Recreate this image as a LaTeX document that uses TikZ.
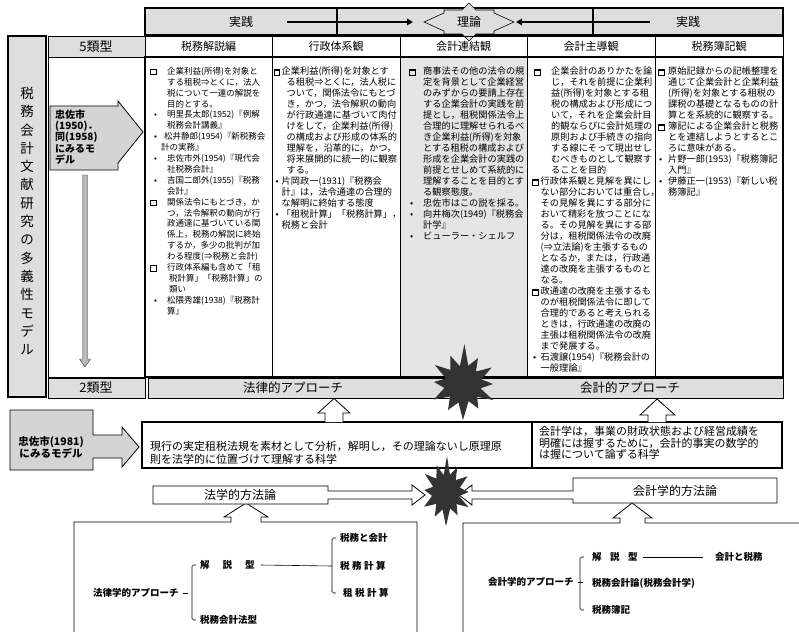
\documentclass[tikz,border=0pt]{standalone}
\usepackage{fontspec}
\setmainfont{Noto Sans CJK JP}
\usetikzlibrary{arrows.meta}
\definecolor{bandgray}{gray}{0.87}
\definecolor{boxgray}{gray}{0.83}
\definecolor{colgray}{gray}{0.9}
\definecolor{stardark}{gray}{0.2}
\newcommand\fs[2]{\fontsize{#1}{#2}\selectfont}
\newcommand\sqm{{\setlength\fboxrule{1.1pt}\setlength\fboxsep{0pt}\fbox{\rule{0pt}{4.4pt}\hspace{4.4pt}}}}
\newcommand\mk[2]{\makebox[#1][l]{#2}}
\newcommand\ind[1]{\hspace*{#1}}
\tikzset{
 hdr/.style={font=\fs{11}{13}},
 coltext/.style={anchor=north west, align=left, font=\fs{9.2}{11}},
 bigtext/.style={font=\fs{12.5}{14}},
 gothic/.style={font=\bfseries\fs{10}{11.3}, align=left},
 treelbl/.style={anchor=west, font=\bfseries\fs{9.5}{11}},
 blockarrow/.style={draw, fill=white, line width=0.8pt},
 burstfill/.style={fill=stardark},
 thinln/.style={line width=0.6pt},
}
\begin{document}
\begin{tikzpicture}[x=1pt,y=-1pt, every node/.style={inner sep=0pt}]
\useasboundingbox (0,0) rectangle (799,631);

% ---------- top band ----------
\fill[bandgray] (145,8) rectangle (783,35);
\draw[line width=1.2pt] (145,8) rectangle (593,35);
\draw[line width=1.8pt] (337,8) rectangle (783,35);
\draw[line width=1pt] (593,8) -- (593,35);
\node[font=\fs{12}{12}] (jissenL) at (241,22) {実践};
\node[font=\fs{12}{12}] (jissenR) at (688,22) {実践};
\draw[fill=bandgray, thinln] (424,22) -- (444,13) -- (444,10) -- (462,10) -- (469,3) -- (476,10) -- (494,10) -- (494,13) -- (514,22) -- (494,31) -- (494,34) -- (476,34) -- (469,41) -- (462,34) -- (444,34) -- (444,31) -- cycle;
\node[font=\fs{12}{12}] (riron) at (469,22) {理論};
\coordinate (a1s) at (287,22); \coordinate (a1e) at (413,22);
\coordinate (a2s) at (650,22); \coordinate (a2e) at (516,22);
\draw[line width=1.6pt, -{Triangle[length=6pt,width=6.5pt]}] (a1s) -- (a1e);
\draw[line width=1.6pt, -{Triangle[length=6pt,width=6.5pt]}] (a2s) -- (a2e);

% ---------- left panel ----------
\draw[fill=bandgray, line width=1.8pt] (8,36) rectangle (46,397);
\node[font=\fs{13.5}{18.3}, align=center] (vt) at (27,221) {税\\務\\会\\計\\文\\献\\研\\究\\の\\多\\義\\性\\モ\\デ\\ル};

% ---------- 5 types column ----------
\draw[fill=bandgray, thinln] (48,36) rectangle (145,57);
\node[font=\fs{13}{13}] (five) at (96,46.5) {5類型};
\draw[thinln] (48,57) rectangle (145,377);
\draw[fill=bandgray, thinln] (48,378) rectangle (145,398);
\node[font=\fs{13}{13}] (two) at (96,388) {2類型};
\draw[fill=boxgray, line width=0.8pt] (50,106) -- (118,106) -- (118,101) -- (143,132) -- (118,163) -- (118,170) -- (50,170) -- cycle;
\node[gothic, anchor=west] (m1950) at (55,137) {忠佐市\\(1950)．\\同(1958)\\にみるモ\\デル};
\draw[fill=gray!55, draw=gray!40!black, line width=0.4pt] (82.5,175) -- (87.5,175) -- (87.5,359) -- (90.5,359) -- (85,367) -- (79.5,359) -- (82.5,359) -- cycle;

% ---------- header row ----------
\draw[thinln] (145,36) rectangle (783,57);
\foreach \xx in {272,400,527,655} \draw[thinln] (\xx,36) -- (\xx,377);
\node[hdr] (h1) at (208.5,46.5) {税務解説編};
\node[hdr] (h2) at (336,46.5) {行政体系観};
\node[hdr] (h3) at (463.5,46.5) {会計連結観};
\node[hdr] (h4) at (591,46.5) {会計主導観};
\node[hdr] (h5) at (719,46.5) {税務簿記観};

% ---------- body ----------
\fill[colgray] (400,57) rectangle (527,377);
\foreach \xx in {272,400,527,655} \draw[thinln] (\xx,57) -- (\xx,377);
\draw[line width=1.6pt] (145,57) rectangle (783,377);

\node[coltext, font=\fs{8.5}{10.9}] (c1) at (150,67) {%
\mk{17pt}{\sqm}企業利益(所得)を対象と\\
\ind{17pt}する租税⇒とくに，法人\\
\ind{17pt}税について一連の解説を\\
\ind{17pt}目的とする。\\
\mk{17pt}{\hspace{4pt}•}明里長太郎(1952)『例解\\
\ind{17pt}税務会計講義』\\
\mk{14pt}{\hspace{4pt}•}松井静郎(1954)『新税務会\\
\ind{11pt}計の実務』\\
\mk{17pt}{\hspace{4pt}•}忠佐市外(1954)『現代会\\
\ind{17pt}社税務会計』\\
\mk{17pt}{\hspace{4pt}•}吉国二郎外(1955)『税務\\
\ind{17pt}会計』\\
\mk{17pt}{\sqm}関係法令にもとづき，か\\
\ind{17pt}つ，法令解釈の動向が行\\
\ind{17pt}政通達に基づいている関\\
\ind{17pt}係上，税務の解説に終始\\
\ind{17pt}するか，多少の批判が加\\
\ind{17pt}わる程度(⇒税務と会計)\\
\mk{17pt}{\sqm}行政体系編も含めて「租\\
\ind{19pt}税計算」「税務計算」の\\
\ind{19pt}類い\\
\mk{17pt}{\hspace{4pt}•}松隈秀雄(1938)『税務計\\
\ind{17pt}算』};

\node[coltext] (c2) at (273.5,67) {%
\mk{8pt}{\sqm}企業利益(所得)を対象とす\\
\ind{13pt}る租税⇒とくに，法人税に\\
\ind{13pt}ついて，関係法令にもとづ\\
\ind{13pt}き，かつ，法令解釈の動向\\
\ind{13pt}が行政通達に基づいて肉付\\
\ind{13pt}けをして，企業利益(所得)\\
\ind{13pt}の構成および形成の体系的\\
\ind{13pt}理解を，沿革的に，かつ，\\
\ind{13pt}将来展開的に統一的に観察\\
\ind{13pt}する。\\
\mk{8pt}{\hspace{2pt}•}片岡政一(1931)『税務会\\
\ind{8pt}計』は，法令通達の合理的\\
\ind{8pt}な解明に終始する態度\\
\mk{8pt}{\hspace{2pt}•}「租税計算」「税務計算」，\\
\ind{8pt}税務と会計};

\node[coltext] (c3) at (409,67) {%
\mk{14pt}{\sqm}商事法その他の法令の規\\
\ind{14pt}定を背景として企業経営\\
\ind{14pt}のみずからの要請上存在\\
\ind{14pt}する企業会計の実践を前\\
\ind{14pt}提とし，租税関係法令上\\
\ind{14pt}合理的に理解せられるべ\\
\ind{14pt}き企業利益(所得)を対象\\
\ind{14pt}とする租税の構成および\\
\ind{14pt}形成を企業会計の実践の\\
\ind{14pt}前提とせしめて系統的に\\
\ind{14pt}理解することを目的とす\\
\ind{14pt}る観察態度。\\
\mk{14pt}{\hspace{1pt}•}忠佐市はこの説を採る。\\
\mk{14pt}{\hspace{1pt}•}向井梅次(1949)『税務会\\
\ind{14pt}計学』\\
\mk{14pt}{\hspace{1pt}•}ビューラー・シェルフ};

\node[coltext] (c4) at (532,67) {%
\mk{19pt}{\hspace{2pt}\sqm}企業会計のありかたを論\\
\ind{19pt}じ，それを前提に企業利\\
\ind{19pt}益(所得)を対象とする租\\
\ind{19pt}税の構成および形成につ\\
\ind{19pt}いて，それを企業会計目\\
\ind{19pt}的観ならびに会計処理の\\
\ind{19pt}原則および手続きの指向\\
\ind{19pt}する線にそって現出せし\\
\ind{19pt}むべきものとして観察す\\
\ind{19pt}ることを目的\\
\mk{8.5pt}{\sqm}行政体系観と見解を異にし\\
\ind{8.5pt}ない部分においては重合し，\\
\ind{8.5pt}その見解を異にする部分に\\
\ind{8.5pt}おいて精彩を放つことにな\\
\ind{8.5pt}る。その見解を異にする部\\
\ind{8.5pt}分は，租税関係法令の改廃\\
\ind{8.5pt}(⇒立法論)を主張するもの\\
\ind{8.5pt}となるか，または，行政通\\
\ind{8.5pt}達の改廃を主張するものと\\
\ind{8.5pt}なる。\\
\mk{8.5pt}{\sqm}政通達の改廃を主張するも\\
\ind{8.5pt}のが租税関係法令に即して\\
\ind{8.5pt}合理的であると考えられる\\
\ind{8.5pt}ときは，行政通達の改廃の\\
\ind{8.5pt}主張は租税関係法令の改廃\\
\ind{8.5pt}まで発展する。\\
\mk{8.5pt}{\hspace{1pt}•}石渡譲(1954)『税務会計の\\
\ind{8.5pt}一般理論』};

\node[coltext] (c5) at (658,67) {%
\mk{10pt}{\sqm}原始記録からの記帳整理を\\
\ind{10pt}通じて企業会計と企業利益\\
\ind{10pt}(所得)を対象とする租税の\\
\ind{10pt}課税の基礎となるものの計\\
\ind{10pt}算とを系統的に観察する。\\
\mk{10pt}{\sqm}簿記による企業会計と税務\\
\ind{10pt}とを連結しようとするとこ\\
\ind{10pt}ろに意味がある。\\
\mk{10pt}{\hspace{1pt}•}片野一郎(1953)『税務簿記\\
\ind{10pt}入門』\\
\mk{10pt}{\hspace{1pt}•}伊藤正一(1953)『新しい税\\
\ind{10pt}務簿記』};

% ---------- approach bar ----------
\draw[fill=bandgray, thinln] (148,378) rectangle (783,398);
\node[bigtext] (lawap) at (293,388) {法律的アプローチ};
\node[bigtext] (accap) at (630,388) {会計的アプローチ};
\begin{scope}[shift={(463,384)}]
\fill[burstfill] (0:30) -- (14:18) -- (28:34) -- (42:19) -- (58:29) -- (72:18) -- (90:36) -- (104:19) -- (120:30) -- (136:18) -- (152:33) -- (168:19) -- (184:29) -- (198:18) -- (214:34) -- (228:19) -- (246:31) -- (260:18) -- (272:40) -- (286:19) -- (300:30) -- (316:18) -- (330:33) -- (346:19) -- cycle;
\end{scope}

% ---------- 1981 model ----------
\draw[fill=boxgray, line width=0.8pt] (10,410) -- (93,410) -- (93,435) -- (122,435) -- (122,427) -- (139,447) -- (122,467) -- (122,458) -- (93,458) -- (93,470) -- (10,470) -- cycle;
\node[gothic, font=\bfseries\fs{10.5}{12}, align=center] (m1981) at (51,447) {忠佐市(1981)\\にみるモデル};

\draw[fill=white, line width=1.1pt] (142,422) rectangle (536,468);
\node[anchor=north west, align=left, font=\fs{11}{13}] (lawdef) at (150,441) {現行の実定租税法規を素材として分析，解明し，その理論ないし原理原\\則を法学的に位置づけて理解する科学};
\draw[fill=white, line width=1.4pt] (532,422) rectangle (782,468);
\node[anchor=north west, align=left, font=\fs{11}{11.7}] (accdef) at (539,426) {会計学は，事業の財政状態および経営成績を\\明確には握するために，会計的事実の数学的\\は握について論ずる科学};

\draw[blockarrow] (325,422) -- (325,413) -- (318,413) -- (334,398.5) -- (350,413) -- (343,413) -- (343,422);
\draw[blockarrow] (648,422) -- (648,415) -- (640,415) -- (657,399) -- (675,415) -- (666,415) -- (666,422);

% ---------- lower big boxes ----------
\draw[line width=0.8pt, fill=white] (74,640) -- (74,522) -- (231,522) -- (231,517) -- (224,517) -- (246,503) -- (268,517) -- (261,517) -- (261,522) -- (417,522) -- (417,640);
\draw[line width=0.8pt, fill=white] (463,640) -- (463,523) -- (620,523) -- (620,518) -- (613,518) -- (632,503) -- (652,518) -- (645,518) -- (645,523) -- (805,523);

\draw[blockarrow] (153,486) -- (328,486) -- (328,491) -- (412,491) -- (412,485) -- (425,495) -- (412,505) -- (412,499) -- (328,499) -- (328,504) -- (153,504) -- cycle;
\node[font=\fs{12}{12}] (lawm) at (240,495) {法学的方法論};
\draw[blockarrow] (777,478) -- (573,478) -- (573,491) -- (472,491) -- (472,485) -- (459,495) -- (472,505) -- (472,499) -- (573,499) -- (573,503) -- (777,503) -- cycle;
\node[font=\fs{12}{12}] (accm) at (675,491) {会計学的方法論};

\begin{scope}[shift={(446,492)}, xscale=0.75, yscale=0.95]
\fill[burstfill] (0:30) -- (14:18) -- (28:34) -- (42:19) -- (58:29) -- (72:18) -- (90:36) -- (104:19) -- (120:30) -- (136:18) -- (152:33) -- (168:19) -- (184:29) -- (198:18) -- (214:34) -- (228:19) -- (246:31) -- (260:18) -- (272:38) -- (286:19) -- (300:30) -- (316:18) -- (330:33) -- (346:19) -- cycle;
\end{scope}

% ---------- left tree ----------
\node[treelbl] (lawA) at (93,593) {法律学的アプローチ};
\node[treelbl] (kai1) at (200,565) {解\hspace{13pt}説\hspace{13pt}型};
\node[treelbl] (zhk) at (200,620) {税務会計法型};
\node[treelbl] (zk) at (340,538) {税務と会計};
\node[treelbl] (zc) at (340,566) {税\hspace{2.5pt}務\hspace{2.5pt}計\hspace{2.5pt}算};
\node[treelbl] (sc) at (343,593) {租\hspace{2.5pt}税\hspace{2.5pt}計\hspace{2.5pt}算};
\draw[thinln] ([xshift=4pt]lawA.east) -- ([xshift=9pt]lawA.east);
\draw[thinln, rounded corners=1.5pt] ([xshift=-4pt]kai1.west) -- ([xshift=-8pt]kai1.west) |- ([xshift=-4pt]zhk.west);
\draw[thinln] ([xshift=6pt]kai1.east) -- ([xshift=-8pt]zc.west);
\draw[thinln, rounded corners=1.5pt] ([xshift=-4pt]zk.west) -- ([xshift=-8pt]zk.west) |- ([xshift=-7pt]sc.west);

% ---------- right tree ----------
\node[treelbl] (accA) at (488,582) {会計学的アプローチ};
\node[treelbl] (kai2) at (592,557) {解\hspace{8.5pt}説\hspace{8.5pt}型};
\node[treelbl] (zkr) at (592,583) {税務会計論(税務会計学)};
\node[treelbl] (zbk) at (592,610) {税務簿記};
\node[treelbl] (kz) at (715,557) {会計と税務};
\draw[thinln] ([xshift=4pt]accA.east) -- ([xshift=9pt]accA.east);
\draw[thinln, rounded corners=1.5pt] ([xshift=-8pt]kai2.west) -- ([xshift=-12pt]kai2.west) |- ([xshift=-8pt]zbk.west);
\draw[thinln] ([xshift=5pt]kai2.east) -- ([xshift=-12pt]kz.west);
\end{tikzpicture}
\end{document}
